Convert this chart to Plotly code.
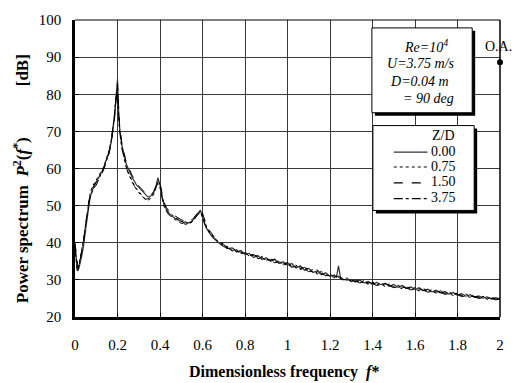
import plotly.graph_objects as go

# ---------------- data ----------------
freq = [
    0, 0.005, 0.01, 0.015, 0.02, 0.03, 0.04, 0.05, 0.06, 0.07,
    0.08, 0.09, 0.10, 0.11, 0.12, 0.13, 0.14, 0.15, 0.16, 0.17,
    0.18, 0.185, 0.19, 0.195, 0.20, 0.205, 0.21, 0.22, 0.23, 0.24,
    0.25, 0.26, 0.27, 0.28, 0.29, 0.30, 0.31, 0.32, 0.33, 0.34,
    0.35, 0.36, 0.37, 0.38, 0.39, 0.40, 0.41, 0.42, 0.43, 0.44,
    0.45, 0.46, 0.47, 0.48, 0.49, 0.50, 0.51, 0.52, 0.53, 0.54,
    0.55, 0.56, 0.57, 0.58, 0.59, 0.60, 0.61, 0.62, 0.63, 0.64,
    0.65, 0.66, 0.67, 0.68, 0.69, 0.70,
    0.72, 0.74, 0.76, 0.78, 0.80, 0.82, 0.84, 0.86, 0.88, 0.90,
    0.92, 0.94, 0.96, 0.98, 1.00, 1.02, 1.04, 1.06, 1.08, 1.10,
    1.12, 1.14, 1.16, 1.18, 1.20, 1.22, 1.23, 1.24, 1.25, 1.26,
    1.28, 1.30, 1.32, 1.34, 1.36, 1.38, 1.40, 1.42, 1.44, 1.46,
    1.48, 1.50, 1.52, 1.54, 1.56, 1.58, 1.60, 1.62, 1.64, 1.66,
    1.68, 1.70, 1.72, 1.74, 1.76, 1.78, 1.80, 1.82, 1.84, 1.86,
    1.88, 1.90, 1.92, 1.94, 1.96, 1.98, 2.00,
]

zd_000 = [
    39.5, 36.5, 33.5, 32.8, 33.5, 36.0, 39.0, 43.5, 48.5, 51.8,
    54.0, 55.2, 56.0, 57.3, 58.6, 59.5, 61.0, 62.5, 64.5, 67.0,
    70.5, 73.5, 77.0, 81.0, 84.0, 76.0, 71.0, 66.5, 63.5, 61.5,
    60.0, 58.5, 57.5, 56.5, 55.5, 55.0, 54.3, 53.6, 53.0, 52.5,
    52.3, 52.8, 53.5, 55.0, 57.5, 55.5, 52.0, 50.0, 48.8, 48.0,
    47.5, 47.0, 46.6, 46.3, 46.0, 45.8, 45.5, 45.6, 45.3, 45.5,
    45.8, 46.5, 47.3, 48.2, 48.8, 47.0, 45.0, 43.8, 42.8, 42.0,
    41.3, 40.8, 40.2, 39.8, 39.3, 39.0,
    38.4, 38.6, 37.5, 37.9, 36.8, 37.1, 36.0, 36.6, 35.5, 36.0,
    35.0, 35.5, 34.4, 34.9, 33.9, 34.4, 33.2, 33.8, 32.6, 33.1,
    32.0, 32.4, 31.4, 31.9, 30.9, 31.3, 30.6, 33.8, 30.4, 30.2,
    29.9, 30.1, 29.4, 29.9, 29.2, 29.6, 28.8, 29.3, 28.7, 29.1,
    28.3, 28.8, 28.0, 28.5, 27.7, 28.1, 27.4, 27.9, 27.1, 27.5,
    26.8, 27.2, 26.5, 26.9, 26.2, 26.6, 25.9, 26.3, 25.6, 26.0,
    25.3, 25.7, 25.1, 25.4, 24.8, 25.2, 24.8,
]

zd_075 = [
    39.0, 35.5, 33.0, 33.2, 34.5, 37.5, 41.0, 45.5, 50.0, 53.0,
    55.0, 56.0, 57.0, 58.0, 58.8, 59.8, 61.2, 62.8, 64.8, 67.5,
    71.0, 73.8, 76.5, 80.0, 82.5, 75.0, 70.5, 66.0, 63.0, 60.8,
    59.0, 57.6, 56.5, 55.3, 54.5, 53.8, 53.0, 52.4, 51.8, 51.5,
    51.6, 52.2, 53.0, 54.6, 56.8, 55.8, 52.5, 50.5, 49.2, 48.5,
    47.8, 47.4, 46.8, 46.6, 46.2, 45.7, 45.9, 45.2, 45.4, 45.0,
    45.5, 46.2, 47.0, 48.0, 48.5, 47.5, 45.8, 44.2, 43.3, 42.4,
    41.7, 41.0, 40.6, 40.0, 39.7, 39.3,
    38.9, 37.9, 38.2, 37.2, 37.6, 36.5, 36.9, 35.9, 36.3, 35.3,
    35.7, 34.7, 35.2, 34.1, 34.6, 33.6, 34.0, 33.0, 33.5, 32.4,
    32.8, 31.8, 32.3, 31.2, 31.6, 30.7, 31.1, 30.9, 30.7, 30.4,
    30.5, 29.6, 30.1, 29.3, 29.8, 29.0, 29.5, 28.6, 29.2, 28.4,
    28.9, 28.1, 28.6, 27.8, 28.3, 27.5, 27.9, 27.2, 27.7, 26.9,
    27.4, 26.6, 27.1, 26.3, 26.8, 26.0, 26.5, 25.8, 26.2, 25.5,
    25.9, 25.2, 25.6, 24.9, 25.4, 24.8, 25.1,
]

zd_150 = [
    40.0, 37.0, 34.0, 33.0, 33.8, 36.5, 40.0, 44.5, 49.5, 52.5,
    54.5, 55.5, 56.5, 57.0, 58.0, 59.0, 60.5, 62.0, 64.0, 66.5,
    70.0, 72.8, 76.0, 79.5, 83.0, 77.0, 71.5, 67.0, 64.0, 62.0,
    60.5, 59.0, 58.0, 57.0, 56.0, 55.3, 54.6, 54.0, 53.4, 53.0,
    52.8, 53.0, 53.8, 55.3, 56.5, 56.0, 53.0, 50.8, 49.5, 48.6,
    48.0, 47.6, 47.2, 46.8, 46.5, 46.2, 46.0, 46.1, 45.8, 45.9,
    46.2, 46.8, 47.6, 48.3, 49.0, 48.0, 46.2, 44.5, 43.5, 42.6,
    42.0, 41.4, 40.8, 40.4, 39.9, 39.6,
    38.0, 38.8, 37.7, 37.6, 37.3, 36.5, 36.8, 36.3, 35.8, 35.7,
    35.3, 35.6, 34.9, 34.3, 34.7, 33.8, 33.9, 33.2, 33.3, 32.8,
    32.5, 32.7, 31.6, 31.5, 31.4, 31.0, 30.8, 31.0, 30.6, 30.6,
    30.3, 29.7, 29.6, 29.7, 29.0, 29.3, 29.1, 28.9, 28.6, 28.9,
    28.6, 28.2, 28.3, 28.1, 27.8, 27.9, 27.3, 27.6, 27.1, 27.3,
    26.9, 26.8, 26.7, 26.6, 26.3, 26.3, 26.1, 25.8, 25.9, 25.6,
    25.5, 25.4, 25.3, 25.2, 24.9, 24.9, 24.6,
]

zd_375 = [
    38.5, 35.0, 32.5, 32.5, 34.0, 37.0, 40.5, 45.0, 49.0, 52.0,
    53.5, 54.8, 55.5, 56.8, 58.0, 59.2, 60.8, 62.3, 64.2, 67.2,
    71.2, 74.0, 78.0, 80.5, 81.5, 74.5, 70.0, 65.5, 62.8, 60.5,
    58.8, 57.3, 56.2, 55.2, 54.2, 53.5, 52.8, 52.2, 51.7, 51.8,
    52.0, 52.5, 53.2, 54.8, 56.0, 54.8, 51.8, 49.6, 48.5, 47.6,
    47.2, 46.6, 46.3, 45.8, 45.6, 45.2, 45.3, 44.9, 45.1, 45.3,
    45.6, 46.3, 47.0, 47.8, 48.3, 46.8, 45.2, 43.9, 42.9, 42.2,
    41.5, 40.9, 40.4, 39.9, 39.6, 39.1,
    38.6, 37.8, 37.9, 37.0, 37.3, 36.4, 36.6, 35.7, 36.0, 35.2,
    35.4, 34.6, 34.9, 34.0, 34.3, 33.4, 33.6, 32.8, 33.0, 32.2,
    32.3, 31.6, 31.8, 31.1, 31.2, 30.6, 30.5, 30.7, 30.4, 30.0,
    30.2, 29.5, 29.7, 29.2, 29.4, 28.8, 29.0, 28.5, 28.8, 28.2,
    28.4, 27.9, 28.1, 27.6, 27.8, 27.3, 27.5, 27.0, 27.2, 26.7,
    26.9, 26.4, 26.6, 26.1, 26.3, 25.8, 26.0, 25.5, 25.7, 25.3,
    25.4, 25.0, 25.2, 24.8, 25.0, 24.6, 24.9,
]

series_names = ["0.00", "0.75", "1.50", "3.75"]
series_values = [zd_000, zd_075, zd_150, zd_375]

oa_freq = [2.0]
oa_db = [88.6]

x_tickvals = [0, 0.2, 0.4, 0.6, 0.8, 1.0, 1.2, 1.4, 1.6, 1.8, 2.0]
x_ticktext = ["0", "0.2", "0.4", "0.6", "0.8", "1", "1.2", "1.4", "1.6", "1.8", "2"]
y_tickvals = [20, 30, 40, 50, 60, 70, 80, 90, 100]

# ---------------- styling ----------------
FONT = "Liberation Serif"
W, H = 516, 383
L, R, T, B = 75, 503, 16, 317  # plot area in pixels


def px(x):
    return (x - L) / (R - L)


def py(y):
    return (B - y) / (B - T)


styles = [
    dict(color="#333333", width=1.2, dash="solid"),
    dict(color="black", width=1, dash="dot"),
    dict(color="black", width=1, dash="dash"),
    dict(color="black", width=1, dash="dashdot"),
]

fig = go.Figure()
for name, vals, st in zip(series_names, series_values, styles):
    assert len(vals) == len(freq)
    fig.add_trace(go.Scatter(x=freq, y=vals, mode="lines", name=name, line=st,
                             showlegend=False))

fig.add_trace(go.Scatter(x=oa_freq, y=oa_db, mode="markers",
                         marker=dict(color="black", size=6, symbol="circle"),
                         cliponaxis=False, showlegend=False))

shapes = []
annotations = []

# frame: top and right thin
shapes.append(dict(type="line", xref="paper", yref="paper", x0=0, x1=1, y0=1, y1=1,
                   line=dict(color="black", width=1)))
shapes.append(dict(type="line", xref="paper", yref="paper", x0=1, x1=1, y0=0, y1=1,
                   line=dict(color="black", width=1.5)))


def shadow_box(x0, y0, x1, y1):
    shapes.append(dict(type="rect", xref="paper", yref="paper", layer="above",
                       x0=px(x0 + 3), x1=px(x1 + 3), y0=py(y0 + 3), y1=py(y1 + 3),
                       fillcolor="black", line=dict(width=0)))
    shapes.append(dict(type="rect", xref="paper", yref="paper", layer="above",
                       x0=px(x0), x1=px(x1), y0=py(y0), y1=py(y1),
                       fillcolor="white", line=dict(color="black", width=1)))


# condition box
shadow_box(374, 24, 475, 110)
cond_lines = [
    ("<i>Re</i>=10<sup>4</sup>", 428, 42),
    ("<i>U</i>=3.75 <i>m/s</i>", 423, 60),
    ("<i>D</i>=0.04 <i>m</i>", 422, 78),
    ("= 90 <i>deg</i>", 431, 96),
]
for txt, xx, yy in cond_lines:
    annotations.append(dict(text="<i>" + txt + "</i>", xref="paper", yref="paper",
                            x=px(xx), y=py(yy), xanchor="center", yanchor="middle",
                            showarrow=False, font=dict(family=FONT, size=14, color="black")))

# legend box
shadow_box(375, 123, 477, 209)
annotations.append(dict(text="Z/D", xref="paper", yref="paper", x=px(433), y=py(133),
                        xanchor="left", yanchor="middle", showarrow=False,
                        font=dict(family=FONT, size=14, color="black")))
leg_y = [150, 165, 181, 197]
for name, st, yy in zip(series_names, styles, leg_y):
    shapes.append(dict(type="line", xref="paper", yref="paper", layer="above",
                       x0=px(396), x1=px(430), y0=py(yy), y1=py(yy),
                       line=dict(color=st["color"], width=1.2, dash=st["dash"])))
    annotations.append(dict(text=name, xref="paper", yref="paper", x=px(432), y=py(yy - 1),
                            xanchor="left", yanchor="middle", showarrow=False,
                            font=dict(family=FONT, size=14, color="black")))

# O.A. label
annotations.append(dict(text="O.A.", x=oa_freq[0], y=oa_db[0], xref="x", yref="y",
                        xanchor="center", yanchor="middle", yshift=16, xshift=-2,
                        showarrow=False, font=dict(family=FONT, size=14, color="black")))

# axis titles
NB = "\u00a0"
annotations.append(dict(text="<b>Dimensionless frequency" + NB * 2 + "<i>f</i>*</b>",
                        xref="paper", yref="paper", x=px(285), y=py(373),
                        xanchor="center", yanchor="middle", showarrow=False,
                        font=dict(family=FONT, size=16, color="black")))
annotations.append(dict(text="<b>Power spectrum" + NB * 2 + "<i>P</i><sup>2</sup>(<i>f</i><sup>*</sup>)"
                             + NB * 12 + "[dB]</b>",
                        xref="paper", yref="paper", x=px(20), y=py(177),
                        xanchor="center", yanchor="middle", textangle=-90, showarrow=False,
                        font=dict(family=FONT, size=17, color="black")))

axis_common = dict(
    showgrid=True, gridcolor="#3a3a3a", gridwidth=1,
    showline=True, linecolor="black", linewidth=2.5, mirror=False,
    ticks="inside", ticklen=4, tickcolor="black", tickwidth=1,
    zeroline=False,
    tickfont=dict(family=FONT, size=15, color="black"),
)

fig.update_layout(
    width=W, height=H,
    margin=dict(l=L, r=W - R, t=T, b=H - B, pad=0),
    paper_bgcolor="white", plot_bgcolor="white",
    font=dict(family=FONT, color="black"),
    xaxis=dict(range=[0, 2], tickvals=x_tickvals, ticktext=x_ticktext,
               ticklabelstandoff=12, **axis_common),
    yaxis=dict(range=[20, 100], tickvals=y_tickvals, ticklabelstandoff=8, **axis_common),
    shapes=shapes,
    annotations=annotations,
    showlegend=False,
)

fig.write_html("out.html", config={"displayModeBar": False},
               post_script="document.body.style.margin='0';")
